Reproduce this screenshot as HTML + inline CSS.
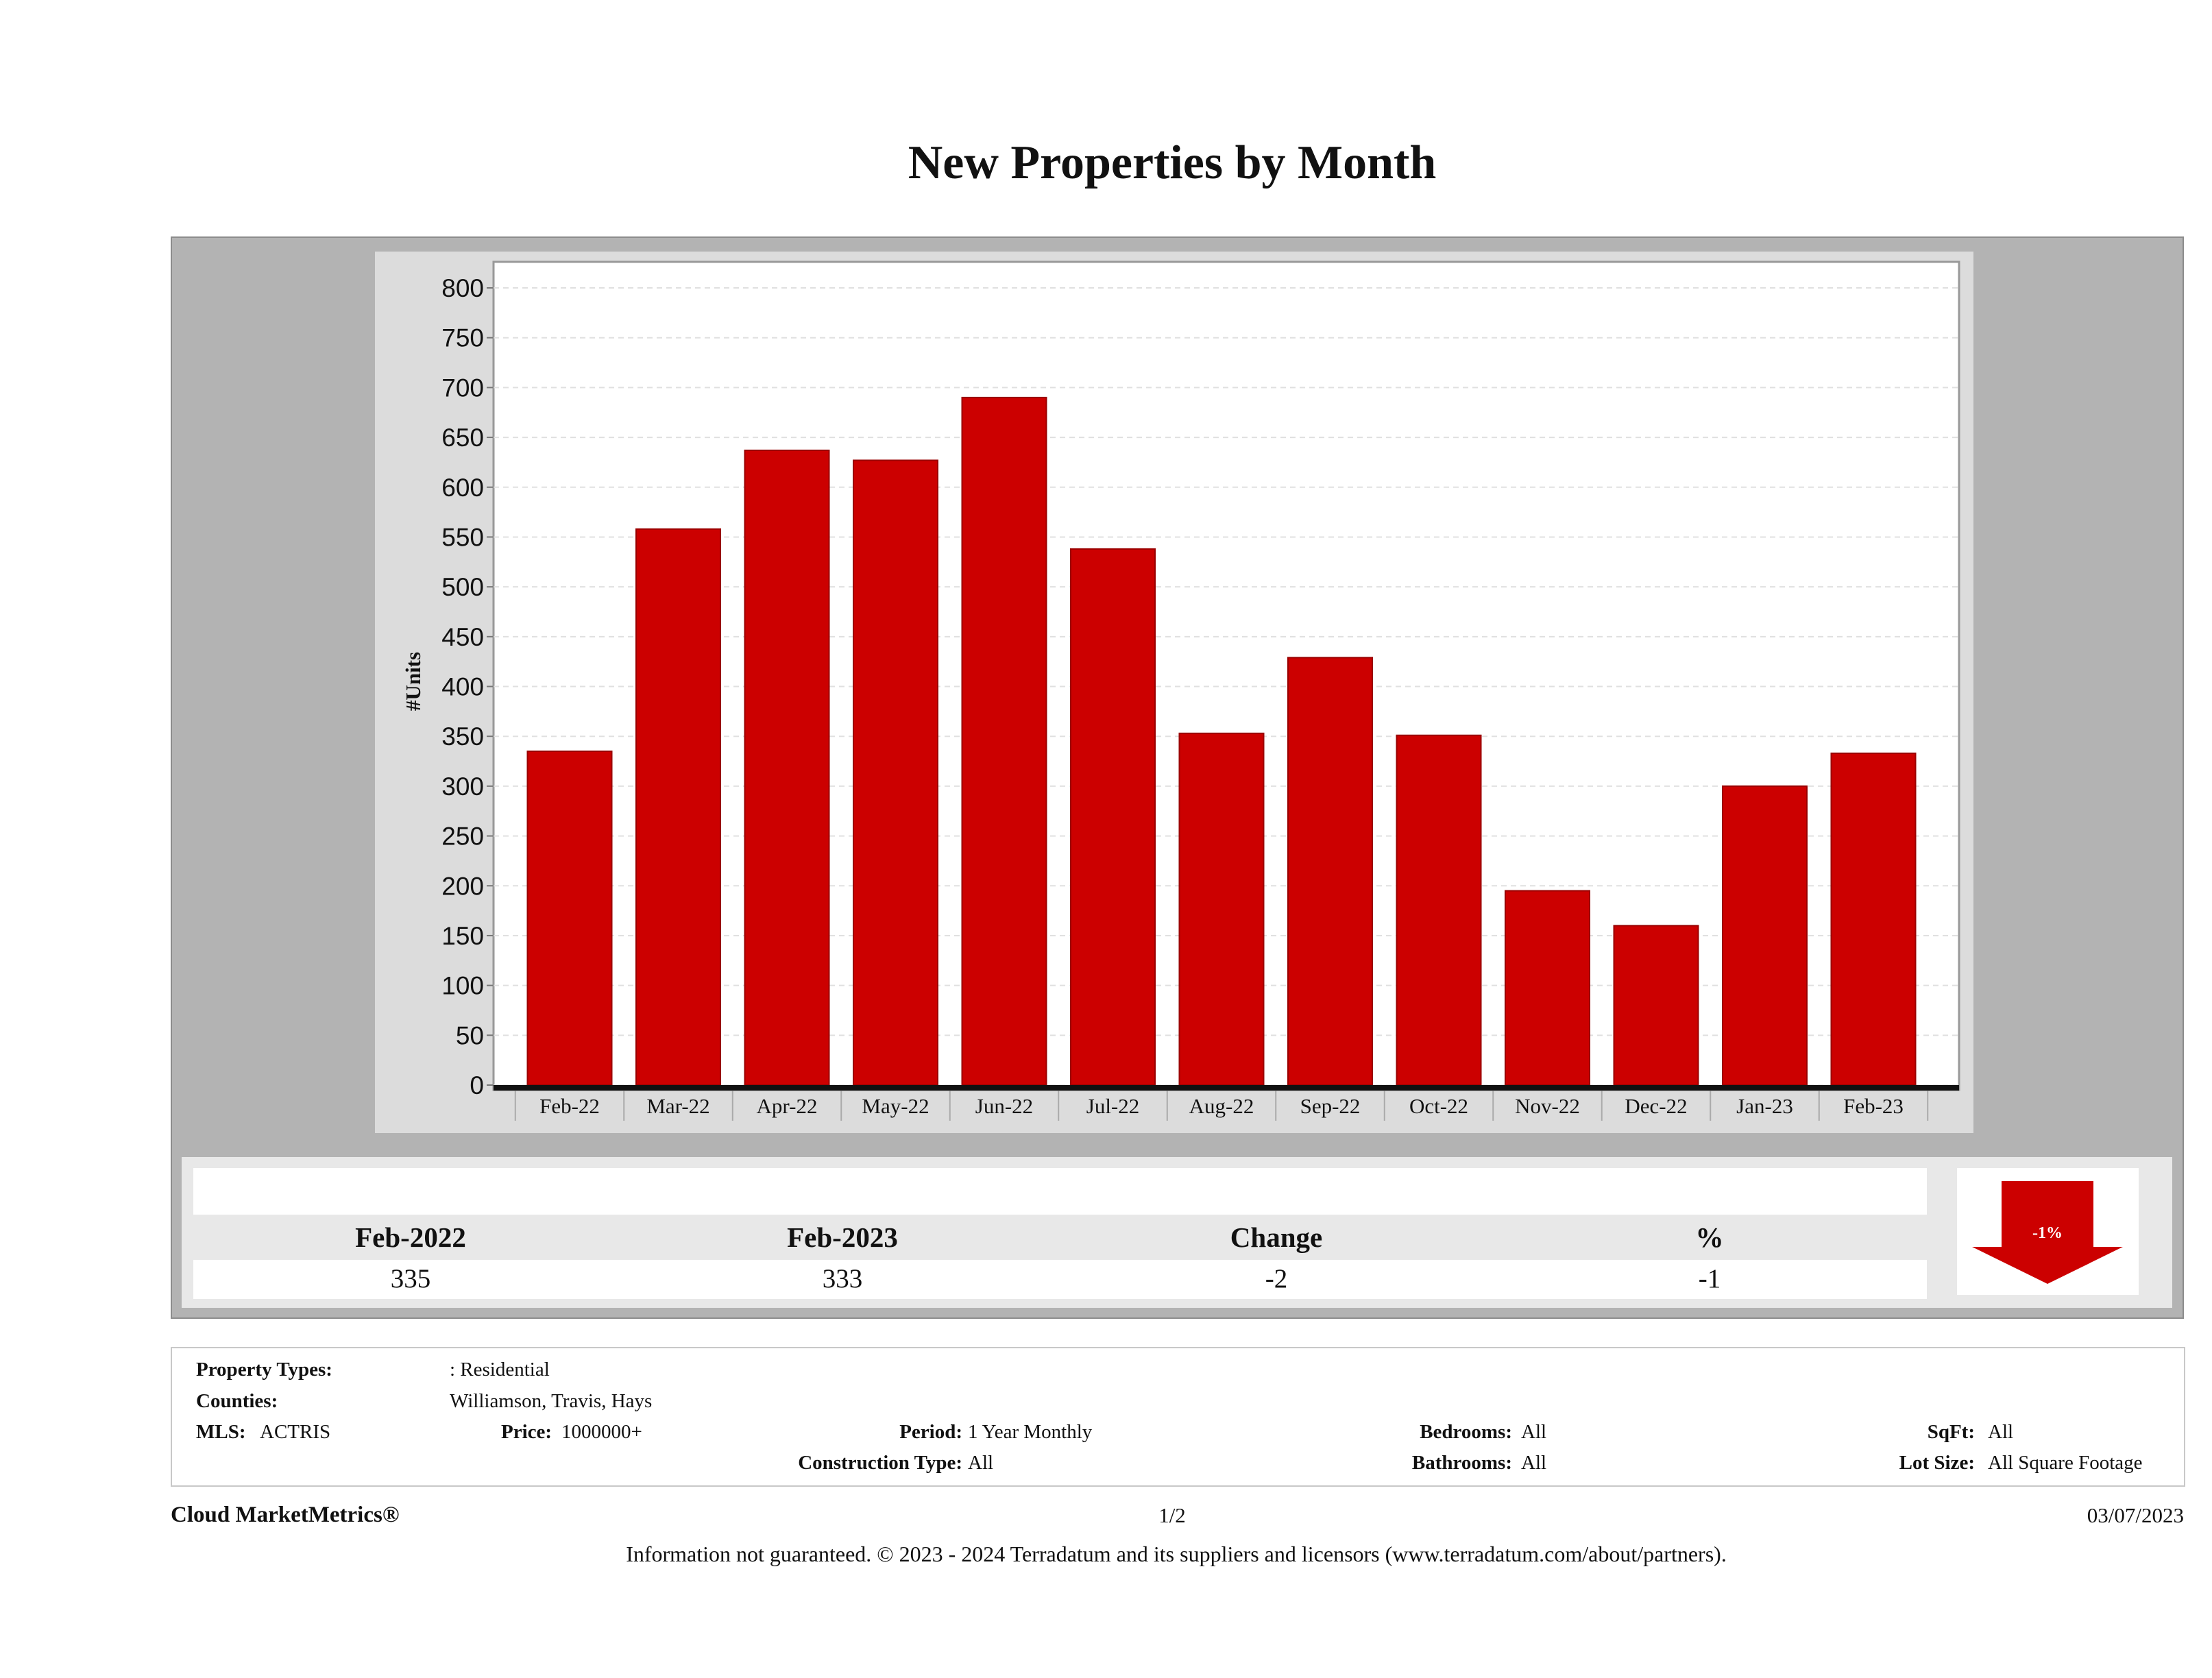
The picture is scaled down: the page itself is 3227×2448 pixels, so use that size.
<!DOCTYPE html>
<html><head><meta charset="utf-8"><style>
html,body{margin:0;padding:0;background:#fff}
body{width:3227px;height:2448px;position:relative;overflow:hidden;font-family:"Liberation Serif",serif;color:#111}
.a{position:absolute;white-space:nowrap}
.b{font-weight:bold}
</style></head><body>
<div class="a b" style="left:0;width:3420px;text-align:center;top:198px;font-size:70px">New Properties by Month</div>
<div class="a" style="left:249px;top:345px;width:2933px;height:1575px;background:#b3b3b3;border:2px solid #8c8c8c"></div>
<div class="a" style="left:547px;top:367px;width:2332px;height:1286px;background:#dcdcdc"></div>
<svg class="a" style="left:0;top:0" width="3227" height="1700" id="chart"></svg>
<div class="a" style="left:265px;top:1688px;width:2904px;height:220px;background:#e8e8e8"></div>
<div class="a" style="left:282px;top:1704px;width:2529px;height:68px;background:#fff"></div>
<div class="a" style="left:282px;top:1838px;width:2529px;height:57px;background:#fff"></div>
<div class="a b" style="left:499px;width:200px;text-align:center;top:1781px;font-size:41px">Feb-2022</div>
<div class="a b" style="left:1129px;width:200px;text-align:center;top:1781px;font-size:41px">Feb-2023</div>
<div class="a b" style="left:1762px;width:200px;text-align:center;top:1781px;font-size:41px">Change</div>
<div class="a b" style="left:2394px;width:200px;text-align:center;top:1781px;font-size:41px">%</div>
<div class="a" style="left:499px;width:200px;text-align:center;top:1843px;font-size:39px">335</div>
<div class="a" style="left:1129px;width:200px;text-align:center;top:1843px;font-size:39px">333</div>
<div class="a" style="left:1762px;width:200px;text-align:center;top:1843px;font-size:39px">-2</div>
<div class="a" style="left:2394px;width:200px;text-align:center;top:1843px;font-size:39px">-1</div>
<div class="a" style="left:2855px;top:1704px;width:265px;height:185px;background:#fff"></div>
<svg class="a" style="left:2855px;top:1704px" width="265" height="185">
<polygon points="65,19 199,19 199,115 242,115 132,169 22,115 65,115" fill="#cc0000"/>
<text x="132" y="102" text-anchor="middle" fill="#fff" font-size="24" font-family="Liberation Serif, serif" font-weight="bold">-1%</text></svg>
<div class="a" style="left:249px;top:1965px;width:2935px;height:200px;border:2px solid #c8c8c8;background:#fff"></div>
<div style="font-size:29px">
<div class="a b" style="left:286px;top:1982px">Property Types:</div>
<div class="a" style="left:656px;top:1982px">: Residential</div>
<div class="a b" style="left:286px;top:2028px">Counties:</div>
<div class="a" style="left:656px;top:2028px">Williamson, Travis, Hays</div>
<div class="a b" style="left:286px;top:2073px">MLS:</div>
<div class="a" style="left:379px;top:2073px">ACTRIS</div>
<div class="a b" style="left:731px;top:2073px">Price:</div>
<div class="a" style="left:819px;top:2073px">1000000+</div>
<div class="a b" style="right:1823px;top:2073px">Period:</div>
<div class="a" style="left:1412px;top:2073px">1 Year Monthly</div>
<div class="a b" style="right:1021px;top:2073px">Bedrooms:</div>
<div class="a" style="left:2219px;top:2073px">All</div>
<div class="a b" style="right:346px;top:2073px">SqFt:</div>
<div class="a" style="left:2900px;top:2073px">All</div>
<div class="a b" style="right:1823px;top:2118px">Construction Type:</div>
<div class="a" style="left:1412px;top:2118px">All</div>
<div class="a b" style="right:1021px;top:2118px">Bathrooms:</div>
<div class="a" style="left:2219px;top:2118px">All</div>
<div class="a b" style="right:346px;top:2118px">Lot Size:</div>
<div class="a" style="left:2900px;top:2118px">All Square Footage</div>
</div>
<div class="a b" style="left:249px;top:2192px;font-size:33px">Cloud MarketMetrics®</div>
<div class="a" style="left:1610px;width:200px;text-align:center;top:2193px;font-size:31px">1/2</div>
<div class="a" style="right:41px;top:2193px;font-size:31px">03/07/2023</div>
<div class="a" style="left:0;width:3432px;text-align:center;top:2249px;font-size:32px">Information not guaranteed. © 2023 - 2024 Terradatum and its suppliers and licensors (www.terradatum.com/about/partners).</div>
<script>
const categories=["Feb-22","Mar-22","Apr-22","May-22","Jun-22","Jul-22","Aug-22","Sep-22","Oct-22","Nov-22","Dec-22","Jan-23","Feb-23"];
const values=[335,558,637,627,690,538,353,429,351,195,160,300,333];
const yTicks=[0,50,100,150,200,250,300,350,400,450,500,550,600,650,700,750,800];
const NS="http://www.w3.org/2000/svg";
const svg=document.getElementById('chart');
const L=720,R=2858,T=382,B=1590,y0=1583,y800=420;
const y=v=>y0+(y800-y0)*v/800;
const step=158.5,first=831,bw=123;
const x=i=>first+i*step;
function mk(t,a){const e=document.createElementNS(NS,t);for(const k in a)e.setAttribute(k,a[k]);svg.appendChild(e);return e;}
let e=mk('rect',{x:L,y:T,width:R-L,height:B-T,fill:'#fff',stroke:'#999','stroke-width':3});

yTicks.forEach(v=>{
 let g=mk('line',{x1:L,x2:R,y1:y(v),y2:y(v),stroke:'#e0e0e0','stroke-width':2,'stroke-dasharray':'8,6'});
 
 mk('line',{x1:L-10,x2:L,y1:y(v),y2:y(v),stroke:'#777','stroke-width':2});
 let t=mk('text',{x:L-14,y:y(v)+13,'text-anchor':'end','font-size':37,'font-family':'Liberation Sans, sans-serif',fill:'#111'});
 t.textContent=v;
});
values.forEach((v,i)=>{
 let r=mk('rect',{x:x(i)-bw/2,y:y(v),width:bw,height:y0-y(v),fill:'#cc0000',stroke:'#9a0000','stroke-width':2});
 
 mk('line',{x1:x(i)-step/2,x2:x(i)-step/2,y1:B,y2:B+45,stroke:'#aaa','stroke-width':2});
 let t=mk('text',{x:x(i),y:1624,'text-anchor':'middle','font-size':31,'font-family':'Liberation Serif, serif',fill:'#111'});
 t.textContent=categories[i];
});
mk('line',{x1:x(categories.length-1)+step/2,x2:x(categories.length-1)+step/2,y1:B,y2:B+45,stroke:'#aaa','stroke-width':2});
let ax=mk('rect',{x:L,y:y0,width:R-L,height:8,fill:'#111'});

let yl=mk('text',{x:0,y:0,transform:'translate(613,994) rotate(-90)','text-anchor':'middle','font-size':31,'font-weight':'bold','font-family':'Liberation Serif, serif',fill:'#111'});
yl.textContent='#Units';
</script>
</body></html>
